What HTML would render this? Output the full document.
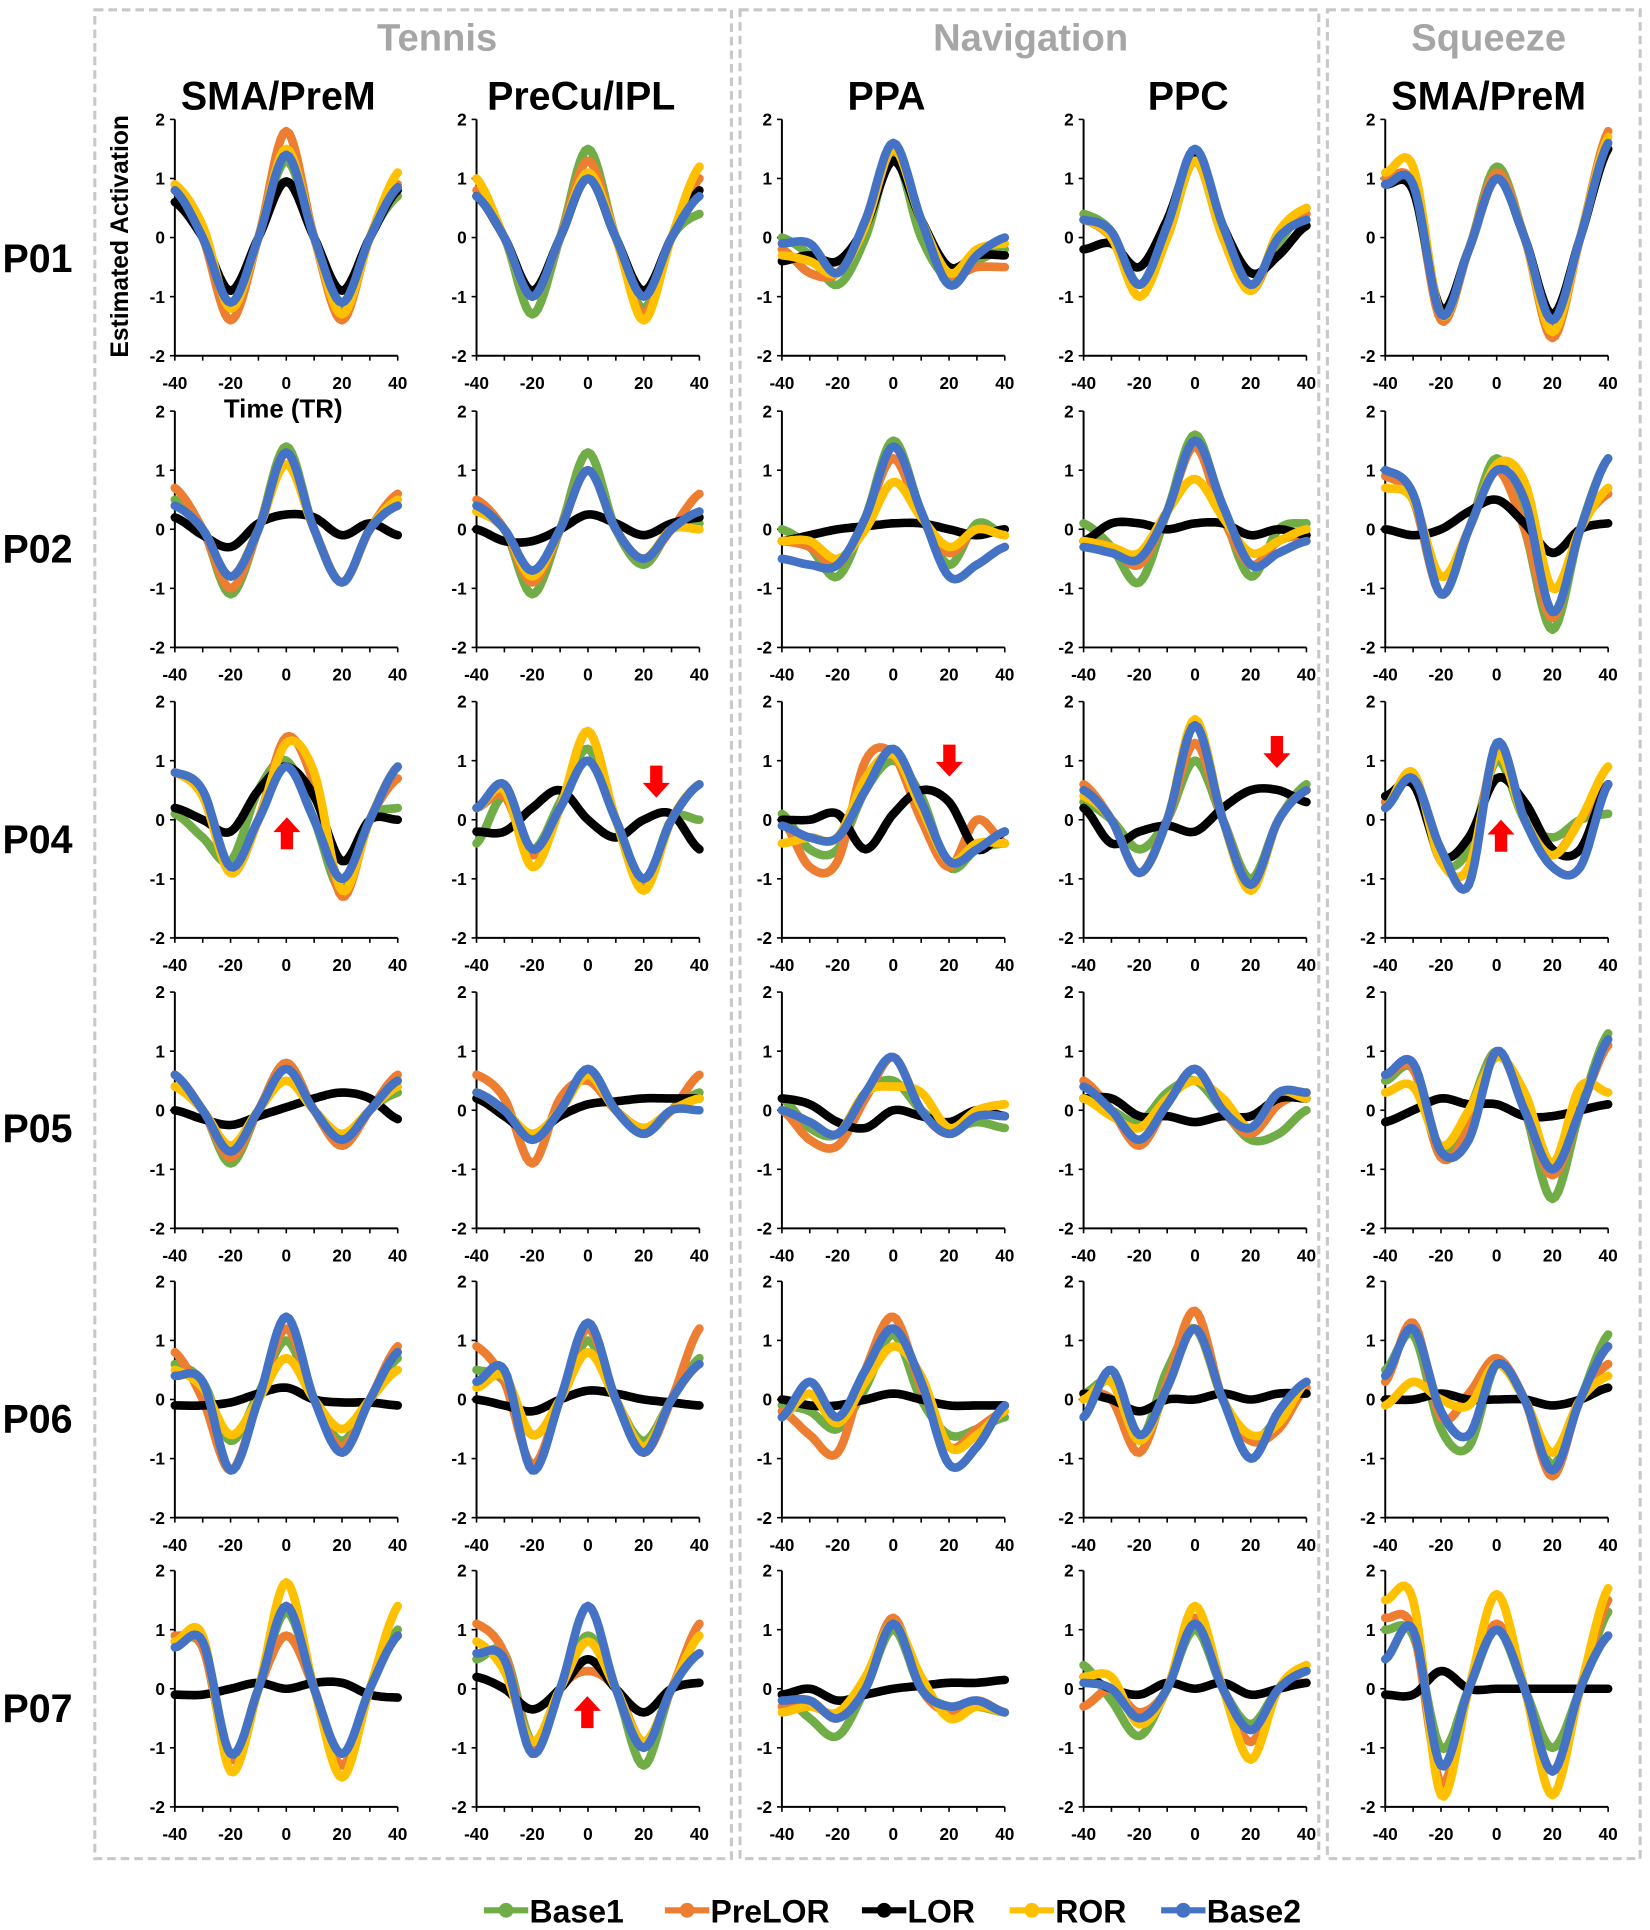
<!DOCTYPE html>
<html><head><meta charset="utf-8"><style>
html,body{margin:0;padding:0;background:#fff;}
svg{display:block;}
text{font-family:"Liberation Sans",sans-serif;font-weight:bold;}
</style></head><body>
<svg id="s" width="1650" height="1930" viewBox="0 0 1340 1568" preserveAspectRatio="none" xmlns="http://www.w3.org/2000/svg">
<rect x="0" y="0" width="1340" height="1568" fill="#fff"/>
<g fill="none" stroke="#c8c8c8" stroke-width="2.5" stroke-dasharray="7 4">
<rect x="77" y="8" width="517" height="1502"/>
<rect x="601" y="8" width="470" height="1502"/>
<rect x="1078" y="8" width="254" height="1502"/>
</g>
<g fill="#a6a6a6" font-size="31" text-anchor="middle">
<text x="355" y="41">Tennis</text><text x="837" y="41">Navigation</text><text x="1209" y="41">Squeeze</text>
</g>
<g fill="#000" font-size="32" text-anchor="middle">
<text x="226" y="89">SMA/PreM</text><text x="472" y="89">PreCu/IPL</text><text x="720" y="89">PPA</text><text x="965" y="89">PPC</text><text x="1209" y="89">SMA/PreM</text>
</g>
<g fill="#000" font-size="32">
<text x="2" y="221">P01</text><text x="2" y="457">P02</text><text x="2" y="693">P04</text><text x="2" y="928">P05</text><text x="2" y="1164">P06</text><text x="2" y="1399">P07</text>
</g>
<text x="104" y="192" font-size="20" text-anchor="middle" transform="rotate(-90 104 192)">Estimated Activation</text>
<text x="230" y="339" font-size="21" text-anchor="middle">Time (TR)</text>
<g id="plots"></g>
<g id="arrows" fill="#ff0000"></g>
<g id="legend"></g>
</svg>
<script>
var C=['#70ad47','#ed7d31','#000000','#ffc000','#4472c4'];
var cols=[142,387,635,880,1125];
var rows=[97,334,570,806,1041,1276];
var D=[
[[[0.8,0,-1.2,0,1.3,0,-1.2,0,0.7],[0.9,0,-1.4,0,1.8,0,-1.4,0,0.9],[0.6,0,-0.9,0,0.95,0,-0.9,0,0.8],[0.9,0.2,-1.2,0,1.5,0,-1.3,0,1.1],[0.8,0,-1.1,0,1.4,0,-1.1,0,0.85]],
[[0.7,0,-1.3,0,1.5,0,-1.2,0,0.4],[0.8,0,-1.0,0,1.3,0,-1.3,0,1.0],[0.7,0,-0.9,0,1.0,0,-0.9,0,0.8],[1.0,0,-1.0,0,1.1,0,-1.4,0,1.2],[0.7,0,-1.0,0,1.0,0,-1.0,0,0.7]],
[[0,-0.3,-0.8,0,1.4,0,-0.7,-0.4,-0.2],[-0.2,-0.6,-0.6,0.2,1.3,0.3,-0.6,-0.5,-0.5],[-0.4,-0.3,-0.4,0.2,1.3,0.3,-0.5,-0.3,-0.3],[-0.3,-0.4,-0.6,0.2,1.5,0.3,-0.6,-0.2,-0.1],[-0.1,-0.1,-0.6,0.3,1.6,0.3,-0.8,-0.3,0]],
[[0.4,0.1,-0.8,0,1.3,0,-0.8,-0.1,0.5],[0.3,0,-0.8,0,1.4,0,-0.9,0,0.4],[-0.2,-0.1,-0.5,0.3,1.4,0.2,-0.6,-0.3,0.2],[0.3,0,-1.0,0,1.3,0,-0.9,0.1,0.5],[0.3,0.1,-0.8,0.2,1.5,0.2,-0.8,0,0.3]],
[[0.9,0.8,-1.3,-0.2,1.2,0,-1.5,0,1.5],[1.0,0.9,-1.4,-0.2,1.1,0,-1.7,0,1.8],[0.9,0.8,-1.2,-0.2,1.0,0,-1.3,0,1.5],[1.1,1.2,-1.3,-0.2,1.0,0,-1.6,0,1.7],[0.9,0.9,-1.3,-0.2,1.0,0,-1.4,0,1.6]]],
[[[0.5,0,-1.1,0,1.4,0,-0.9,0,0.5],[0.7,0,-1.0,0,1.3,0,-0.9,0,0.6],[0.2,-0.1,-0.3,0.1,0.25,0.2,-0.1,0.1,-0.1],[0.4,0,-0.8,0,1.1,0,-0.9,0,0.5],[0.4,0,-0.8,0,1.3,0,-0.9,0,0.4]],
[[0.3,0,-1.1,0,1.3,0,-0.6,0,0.1],[0.5,0,-0.9,0,1.0,0,-0.5,0,0.6],[0,-0.2,-0.2,0,0.25,0.1,-0.1,0.1,0.2],[0.3,0,-0.8,0,1.0,0,-0.5,0,0],[0.4,0,-0.7,0,1.0,0,-0.5,0,0.3]],
[[0,-0.3,-0.8,0.2,1.5,0.3,-0.6,0.1,-0.1],[-0.2,-0.3,-0.6,0.2,1.2,0.2,-0.4,0,-0.1],[-0.2,-0.1,0,0.05,0.1,0.1,0,-0.1,0],[-0.2,-0.2,-0.5,0,0.8,0.2,-0.3,0,-0.1],[-0.5,-0.6,-0.6,0.2,1.4,0.3,-0.8,-0.6,-0.3]],
[[0.1,-0.3,-0.9,0.3,1.6,0.3,-0.8,0,0.1],[-0.2,-0.3,-0.6,0.3,1.4,0.2,-0.6,-0.2,-0.1],[-0.2,0.1,0.1,0,0.1,0.1,-0.1,0,-0.1],[-0.2,-0.3,-0.4,0.3,0.85,0.2,-0.4,-0.2,0],[-0.3,-0.4,-0.5,0.3,1.5,0.4,-0.6,-0.4,-0.2]],
[[1.0,0.5,-1.1,0,1.2,0,-1.7,0,1.2],[0.9,0.5,-1.1,0,1.0,0,-1.5,0,0.6],[0,-0.1,0,0.3,0.5,0.1,-0.4,0,0.1],[0.7,0.5,-0.8,0,1.1,0.8,-1.0,0,0.7],[1.0,0.6,-1.1,0,1.0,0.5,-1.4,0,1.2]]],
[[[0.1,-0.3,-0.7,0.5,1.0,0,-1.2,0,0.2],[0.8,0.4,-0.9,0,1.4,0.6,-1.3,0,0.7],[0.2,0,-0.2,0.5,0.9,0.4,-0.7,0,0],[0.8,0.4,-0.9,0,1.3,0.8,-1.2,0,0.9],[0.8,0.5,-0.8,0,0.9,0,-1.0,0,0.9]],
[[-0.4,0.4,-0.5,0.3,1.2,0,-1.1,0,0],[0.2,0.4,-0.6,0.2,1.5,0,-1.1,0,0.6],[-0.2,-0.2,0.2,0.5,0,-0.3,0,0.1,-0.5],[0.2,0.5,-0.8,0.2,1.5,0,-1.2,0,0.6],[0.2,0.6,-0.5,0.2,1.0,0,-1.0,0,0.6]],
[[0.1,-0.5,-0.5,0.5,1.0,0.4,-0.8,-0.5,-0.4],[0,-0.8,-0.7,1.0,1.1,0,-0.8,0,-0.4],[0,0,0.1,-0.5,0.1,0.5,0.3,-0.5,-0.2],[-0.4,-0.3,-0.3,0.7,1.1,0.2,-0.7,-0.4,-0.4],[-0.1,-0.3,-0.3,0.5,1.2,0.3,-0.7,-0.5,-0.2]],
[[0.3,0,-0.5,0,1.0,0,-1.0,0,0.6],[0.6,0,-0.9,0,1.3,0,-1.1,0,0.5],[0.2,-0.4,-0.2,-0.1,-0.2,0.2,0.5,0.5,0.3],[0.4,0,-0.9,0,1.7,0,-1.2,0,0.5],[0.5,0,-0.9,0,1.6,0,-1.1,0,0.5]],
[[0.3,0.7,-0.7,-0.5,1.0,0,-0.3,0,0.1],[0.3,0.7,-0.7,-0.8,1.2,0,-0.6,0,0.6],[0.4,0.6,-0.6,-0.3,0.7,0.3,-0.5,-0.5,0.6],[0.2,0.8,-0.7,-0.8,1.1,0,-0.6,0,0.9],[0.2,0.7,-0.5,-1.1,1.3,0,-0.8,-0.8,0.6]]],
[[[0.4,0,-0.9,0,0.8,0,-0.6,0,0.3],[0.6,0,-0.8,0,0.8,0,-0.6,0,0.6],[0,-0.15,-0.25,-0.1,0.05,0.2,0.3,0.2,-0.15],[0.4,0,-0.6,0,0.5,0,-0.4,0,0.4],[0.6,0,-0.7,0,0.7,0,-0.5,0,0.5]],
[[0.2,0,-0.5,0,0.6,0,-0.4,0,0.3],[0.6,0.2,-0.9,0.2,0.5,0,-0.3,0,0.6],[0.2,-0.1,-0.4,-0.1,0.1,0.15,0.2,0.2,0.2],[0.3,0,-0.4,0,0.6,0,-0.3,0,0.2],[0.3,0,-0.5,0,0.7,0,-0.4,0,0]],
[[0.2,-0.3,-0.4,0.3,0.5,0,-0.3,-0.2,-0.3],[0,-0.5,-0.6,0.2,0.9,0,-0.4,0,-0.1],[0.2,0.1,-0.2,-0.3,0,-0.1,-0.2,0,-0.1],[0,-0.2,-0.4,0.3,0.4,0.3,-0.3,0,0.1],[0,-0.2,-0.4,0.3,0.9,0,-0.4,-0.1,-0.1]],
[[0.2,0,-0.2,0.3,0.5,0,-0.5,-0.4,0],[0.5,0,-0.6,0.1,0.7,0,-0.4,0.1,0.3],[0.2,0.2,-0.1,-0.1,-0.2,-0.1,-0.1,0.2,0.2],[0.2,-0.1,-0.3,0.2,0.5,0.2,-0.3,0.3,0.2],[0.4,0,-0.5,0.1,0.7,0,-0.3,0.3,0.3]],
[[0.5,0.7,-0.7,0,1.0,0,-1.5,0,1.3],[0.6,0.7,-0.8,-0.3,1.0,0,-1.1,0,1.1],[-0.2,0,0.2,0.1,0.1,-0.1,-0.1,0,0.1],[0.3,0.4,-0.6,0,0.9,0.3,-0.9,0.4,0.3],[0.6,0.8,-0.7,-0.5,1.0,0,-1.0,0,1.2]]],
[[[0.6,0.3,-0.7,0.1,1.0,0,-0.7,0,0.7],[0.8,0,-1.2,0,1.2,0,-0.8,0,0.9],[-0.1,-0.1,-0.05,0.1,0.2,0,-0.05,-0.05,-0.1],[0.5,0.2,-0.6,0,0.7,0,-0.5,0,0.5],[0.4,0.3,-1.2,0,1.4,0,-0.9,0,0.8]],
[[0.5,0.3,-0.6,0,1.0,0,-0.7,0,0.7],[0.9,0.3,-1.1,0,1.2,0,-0.9,0,1.2],[0,-0.1,-0.2,0,0.15,0.1,0,-0.05,-0.1],[0.2,0.4,-0.6,0,0.8,0,-0.8,0,0.6],[0.3,0.5,-1.2,0,1.3,0,-0.9,0,0.6]],
[[-0.1,-0.2,-0.5,0.2,1.1,0,-0.6,-0.5,-0.3],[-0.2,-0.6,-0.9,0.5,1.4,0.2,-0.8,-0.5,-0.2],[0,-0.1,-0.1,0,0.1,0,-0.1,-0.1,-0.1],[-0.3,0.1,-0.4,0.3,0.9,0.4,-0.8,-0.6,-0.2],[-0.3,0.3,-0.3,0.5,1.2,0.3,-1.1,-0.8,-0.1]],
[[0.1,0.3,-0.7,0.5,1.2,0,-0.7,-0.3,0.2],[0.1,0,-0.9,0.3,1.5,0,-0.7,-0.5,0.2],[0.1,0,-0.2,0,0,0.1,0,0.1,0.1],[0,0.3,-0.7,0.2,1.2,0,-0.6,-0.4,0.3],[-0.3,0.5,-0.6,0.2,1.2,0,-1.0,-0.2,0.3]],
[[0.5,1.1,-0.5,-0.8,0.6,0,-1.1,0,1.1],[0.3,1.3,-0.3,0.1,0.7,0,-1.3,0,0.6],[0,0,0.1,0,0,0,-0.1,0,0.2],[-0.1,0.3,0,-0.1,0.6,0,-0.9,0,0.4],[0.4,1.2,-0.2,-0.6,0.6,0,-1.2,0,0.9]]],
[[[0.8,0.7,-1.2,0,1.3,0,-1.5,0,1.0],[0.9,0.7,-1.2,0,0.9,0,-1.3,0,0.9],[-0.1,-0.1,0,0.1,0,0.1,0.1,-0.1,-0.15],[0.8,0.9,-1.4,0,1.8,0,-1.5,0,1.4],[0.7,0.8,-1.1,0,1.4,0,-1.1,0,0.9]],
[[0.5,0.6,-0.9,0,0.9,0,-1.3,0,0.6],[1.1,0.6,-1.0,0,0.3,0,-0.9,0,1.1],[0.2,0,-0.35,0,0.5,0,-0.4,0,0.1],[0.8,0.3,-0.9,0,0.8,0,-0.9,0,0.9],[0.6,0.5,-1.1,0,1.4,0,-1.0,0,0.6]],
[[-0.1,-0.5,-0.8,0,1.0,0,-0.3,-0.3,-0.4],[-0.3,-0.2,-0.5,0.1,1.2,0,-0.4,-0.2,-0.4],[-0.1,0,-0.2,-0.1,0,0.05,0.1,0.1,0.15],[-0.4,-0.3,-0.4,0.2,1.1,0.2,-0.5,-0.3,-0.4],[-0.2,-0.2,-0.5,0,1.1,0,-0.3,-0.2,-0.4]],
[[0.4,-0.2,-0.8,0,1.0,0,-0.6,0,0.3],[-0.3,0,-0.4,0,1.2,0,-0.9,0,0.1],[0.2,0,-0.1,0.1,0,0.1,-0.1,0,0.1],[0.2,0.2,-0.6,0,1.4,0,-1.2,0,0.4],[0.1,0,-0.5,0,1.1,0,-0.7,0,0.3]],
[[1.0,0.9,-1.0,0,1.0,0,-1.0,0,1.3],[1.2,1.0,-1.6,0,1.1,0,-1.4,0,1.5],[-0.1,-0.1,0.3,0,0,0,0,0,0],[1.5,1.5,-1.8,0,1.6,0,-1.8,0,1.7],[0.5,1.0,-1.3,0,1.0,0,-1.4,0,0.9]]]
];
var out='';
function cr(p){var pts=[];for(var i=0;i<p.length-1;i++){var p0=p[Math.max(i-1,0)],p1=p[i],p2=p[i+1],p3=p[Math.min(i+2,p.length-1)];
for(var k=0;k<10;k++){var t=k/10,t2=t*t,t3=t2*t;pts.push(0.5*((2*p1)+(-p0+p2)*t+(2*p0-5*p1+4*p2-p3)*t2+(-p0+3*p1-3*p2+p3)*t3));}}pts.push(p[p.length-1]);return pts;}
for(var r=0;r<6;r++)for(var c=0;c<5;c++){
 var x0=cols[c],yt=rows[r],yb=yt+192,w=181,ys=48,yz=yt+96;
 out+='<line x1="'+x0+'" y1="'+yt+'" x2="'+x0+'" y2="'+yb+'" stroke="#000" stroke-width="1.6"/>';
 out+='<line x1="'+x0+'" y1="'+yb+'" x2="'+(x0+w)+'" y2="'+yb+'" stroke="#000" stroke-width="1.6"/>';
 for(var v=-2;v<=2;v++){var yy=yz-v*ys;out+='<line x1="'+(x0-4)+'" y1="'+yy+'" x2="'+x0+'" y2="'+yy+'" stroke="#000" stroke-width="1.3"/>';
  out+='<text x="'+(x0-8)+'" y="'+(yy+5)+'" font-size="14" text-anchor="end">'+v+'</text>';}
 for(var t=-40;t<=40;t+=10){var xx=x0+(t+40)*w/80;out+='<line x1="'+xx+'" y1="'+yb+'" x2="'+xx+'" y2="'+(yb+4)+'" stroke="#000" stroke-width="1.3"/>';
  if(t%20==0)out+='<text x="'+xx+'" y="'+(yb+27)+'" font-size="14" text-anchor="middle">'+t+'</text>';}
 for(var s=0;s<5;s++){var pts=cr(D[r][c][s]),d='';
  for(var i=0;i<pts.length;i++){var xx=x0+i*w/80,yy=yz-pts[i]*ys;d+=(i?'L':'M')+xx.toFixed(1)+','+yy.toFixed(1);}
  out+='<path d="'+d+'" fill="none" stroke="'+C[s]+'" stroke-width="7" stroke-linecap="round" stroke-linejoin="round"/>';}
}
document.getElementById('plots').innerHTML=out;
function arrow(x,y,up){var a;if(up)a='M'+x+','+y+' l11,12 h-6 v14 h-10 v-14 h-6z';else a='M'+x+','+(y+26)+' l11,-12 h-6 v-14 h-10 v14 h-6z';return '<path d="'+a+'"/>';}
document.getElementById('arrows').innerHTML=arrow(233,664,1)+arrow(533,622,0)+arrow(771,605,0)+arrow(1037,598,0)+arrow(1219,666,1)+arrow(477,1378,1);
var L=['Base1','PreLOR','LOR','ROR','Base2'],lx=[393,540,700,820,943],lg='';
for(var i=0;i<5;i++){lg+='<line x1="'+lx[i]+'" y1="1552" x2="'+(lx[i]+36)+'" y2="1552" stroke="'+C[i]+'" stroke-width="5"/><circle cx="'+(lx[i]+18)+'" cy="1552" r="6" fill="'+C[i]+'"/>';
lg+='<text x="'+(lx[i]+37)+'" y="1562" font-size="26">'+L[i]+'</text>';}
document.getElementById('legend').innerHTML=lg;
</script>
</body></html>
